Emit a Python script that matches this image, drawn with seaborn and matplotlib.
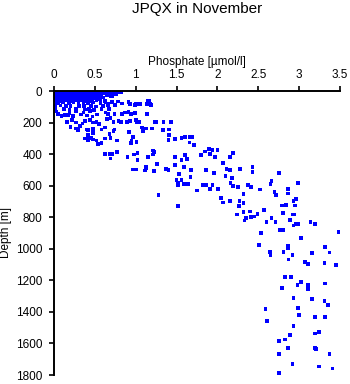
import matplotlib
matplotlib.use("Agg")
import matplotlib.pyplot as plt
import seaborn as sns
import pandas as pd

# ---------------- data ----------------
# surface cluster, row by row
surf1_p = [0.02,0.05,0.09,0.13,0.16,0.20,0.23,0.27,0.30,0.34,0.38,0.41,0.45,0.48,0.52,0.56,0.60,0.64,0.68,0.73,0.77]
surf1_d = [3,5,2,4,6,3,2,5,4,3,6,2,4,5,3,2,6,4,3,5,8]
surf2_p = [0.01,0.04,0.08,0.11,0.15,0.19,0.22,0.26,0.29,0.33,0.36,0.40,0.44,0.47,0.51,0.55,0.58,0.62,0.66,0.70]
surf2_d = [14,16,13,15,17,14,12,16,15,13,17,14,15,12,16,14,18,13,15,17]
surf3_p = [0.02,0.06,0.10,0.13,0.17,0.21,0.24,0.28,0.32,0.35,0.39,0.43,0.46,0.50,0.54,0.57,0.65,0.69]
surf3_d = [26,28,25,27,24,29,26,27,25,28,26,24,29,27,25,28,26,30]
surf4_p = [0.01,0.04,0.08,0.12,0.15,0.19,0.23,0.26,0.30,0.34,0.37,0.41,0.45,0.48,0.53,0.60]
surf4_d = [38,40,37,39,41,38,36,40,39,37,41,38,40,37,39,42]
surf5_p = [0.02,0.05,0.09,0.13,0.17,0.20,0.24,0.28,0.31,0.35,0.39,0.43,0.47,0.50,0.56]
surf5_d = [50,52,49,51,53,48,51,50,52,49,53,50,51,48,52]
surf6_p = [0.01,0.06,0.10,0.16,0.22,0.27,0.33,0.38,0.44,0.52,0.82,0.76,0.71]
surf6_d = [61,60,63,59,62,61,60,64,62,60,10,20,33]

# upper layer, low phosphate
upper_p = [0.03,0.05,0.11,0.18,0.24,0.30,0.36,0.42,0.48,0.57,0.63,
           0.02,0.08,0.15,0.20,0.31,0.37,0.45,0.51,0.60,0.66,
           0.01,0.12,0.19,0.27,0.38,0.43,0.49,0.58,0.67,
           0.03,0.13,0.19,0.27,0.36,0.44,0.53,0.63,
           0.05,0.09,0.17,0.23,0.33,0.40,0.47,
           0.22,0.27,0.32,0.38,0.44,0.48,0.27,0.40,0.48,
           0.16,0.35,0.52,0.55,0.20,0.30,0.58,0.62]
upper_d = [74,78,72,76,73,77,74,75,72,76,73,
           95,92,97,94,96,93,95,98,94,92,
           116,114,118,115,117,113,119,116,112,
           130,152,139,126,137,126,148,137,
           145,158,150,160,148,155,162,
           183,200,221,190,183,200,238,243,238,
           195,205,195,210,230,240,245,232]

# upper layer, higher phosphate
upper2_p = [0.62,0.66,0.71,0.75,0.78,0.83,0.91,0.93,1.00,1.05,1.15,1.14,1.16,1.19,0.99,
            0.66,0.69,0.73,0.79,0.82,0.89,0.93,1.01,0.87,0.91,0.94,0.99,1.24,1.08,1.13,0.74,
            1.14,0.83,0.74,0.65,0.90,1.00,1.04,0.92,1.09,1.175]
upper2_d = [63,84,70,90,66,80,70,84,84,84,63,84,65,87,87,
            147,169,196,190,196,196,190,196,137,133,147,141,196,232,238,243,
            147,147,147,177,200,184,198,257,257,82]

# 250-650 m, phosphate < 1.3
mid1_p = [0.29,0.42,0.48,0.48,0.42,0.43,0.46,0.48,0.38,0.42,0.52,0.58,0.54,0.62,0.69,0.68,0.73,0.77,0.92,1.09,0.97,0.95,0.94,1.01,
          0.62,0.68,0.71,0.69,0.77,0.90,0.98,1.02,1.02,1.15,1.21,1.22,1.21,1.26,0.96,1.00,1.11,1.13,1.13,1.22,1.28]
mid1_d = [249,249,255,266,281,297,297,308,302,314,314,329,335,302,297,272,255,314,259,255,293,314,329,325,
          399,399,399,428,386,420,403,392,439,420,378,386,403,462,497,497,504,492,483,508,658]

# 200-950 m, phosphate 1.2 - 3.5
mid2_p = [1.245,1.34,1.43,1.20,1.33,1.41,1.41,1.40,1.48,1.56,1.60,1.66,1.69,1.66,1.71,
          1.48,1.60,1.56,1.63,1.80,1.85,1.90,1.91,1.94,2.00,1.97,2.07,2.15,2.19,
          1.37,1.40,1.48,1.59,1.68,1.53,1.67,1.86,1.96,2.11,2.15,2.18,2.10,2.28,2.43,2.43,2.75,
          1.50,1.56,1.52,1.52,1.59,1.64,1.75,1.82,1.86,1.91,1.94,2.01,2.16,2.19,2.25,2.37,2.41,2.52,2.66,2.65,2.70,2.72,2.86,2.86,2.99,
          1.52,2.04,2.07,2.15,2.27,2.32,2.26,2.32,2.32,2.24,2.35,2.33,2.40,2.41,2.45,2.49,2.57,2.53,2.60,2.66,2.71,2.76,2.80,2.80,
          2.79,2.84,2.89,2.92,2.94,2.95,2.93,2.96,2.93,2.96,2.99,3.14,3.19,3.02,3.49]
mid2_d = [198,196,198,238,247,243,281,310,306,300,293,293,293,327,342,
          420,407,439,432,407,384,369,399,375,375,420,458,420,394,
          496,502,470,483,502,527,546,502,521,496,502,553,540,496,483,515,521,
          565,563,584,597,591,591,631,597,597,622,597,622,584,603,609,597,609,625,570,591,639,660,622,650,584,
          730,679,707,698,698,654,728,711,768,783,806,821,764,799,795,778,755,901,829,806,831,880,880,774,
          726,723,818,783,783,726,698,685,853,842,844,831,844,930,894]

# deep water
deep_p = [2.51,2.86,2.86,3.32,2.64,2.65,2.81,2.92,3.16,3.37,2.87,3.07,3.11,3.31,3.45,
          2.83,2.90,3.02,3.32,2.98,3.11,3.11,2.79,2.93,3.16,3.31,3.35,2.59,2.99,3.00,2.61,3.19,3.32,
          2.93,3.24,3.19,2.89,2.83,2.75,2.86,3.19,3.21,2.75,3.37,2.92,3.24,3.41,2.75]
deep_d = [975,979,998,990,1019,1040,1019,1038,1027,1023,1068,1084,1097,1091,1101,
          1179,1177,1209,1220,1230,1230,1255,1249,1310,1318,1331,1356,1382,1375,1420,1456,1432,1432,
          1491,1527,1538,1546,1574,1584,1627,1627,1635,1667,1667,1732,1747,1758,1787]

x_ticks = [0, 0.5, 1, 1.5, 2, 2.5, 3, 3.5]
x_tick_labels = ["0", "0.5", "1", "1.5", "2", "2.5", "3", "3.5"]
y_ticks = [0, 200, 400, 600, 800, 1000, 1200, 1400, 1600, 1800]
y_tick_labels = [str(v) for v in y_ticks]

title = "JPQX in November"
x_label = "Phosphate [\u00b5mol/l]"
y_label = "Depth [m]"

# ---------------- assemble ----------------
pairs = [(surf1_p, surf1_d), (surf2_p, surf2_d), (surf3_p, surf3_d), (surf4_p, surf4_d),
         (surf5_p, surf5_d), (surf6_p, surf6_d), (upper_p, upper_d), (upper2_p, upper2_d),
         (mid1_p, mid1_d), (mid2_p, mid2_d), (deep_p, deep_d)]
phos, dep = [], []
for p, d in pairs:
    assert len(p) == len(d)
    phos += p
    dep += d
df = pd.DataFrame({"phosphate": phos, "depth": dep})

# ---------------- style ----------------
sns.set_style("ticks")
plt.rcParams["font.family"] = ["Liberation Sans", "DejaVu Sans"]

fig = plt.figure(figsize=(3.5, 3.84), dpi=100)
W, H = 350, 384
ax = fig.add_axes([54 / W, 1 - 375 / H, 286 / W, 284 / H])

sns.scatterplot(data=df, x="phosphate", y="depth", ax=ax, marker="s", s=7,
                color="#0000ff", linewidth=0, edgecolor="none", legend=False)

ax.set_xlim(0, 3.5)
ax.set_ylim(1800, 0)
ax.xaxis.tick_top()
ax.xaxis.set_label_position("top")
ax.set_xticks(x_ticks)
ax.set_xticklabels(x_tick_labels)
ax.set_yticks(y_ticks)
ax.set_yticklabels(y_tick_labels)

for side in ["right", "bottom"]:
    ax.spines[side].set_visible(False)
for side in ["top", "left"]:
    ax.spines[side].set_linewidth(1.4)
    ax.spines[side].set_color("black")

ax.tick_params(axis="x", which="both", top=True, bottom=False, direction="out",
               length=3.5, width=1.2, pad=3.5, labelsize=8.5, colors="black")
ax.tick_params(axis="y", which="both", left=True, right=False, direction="out",
               length=3.5, width=1.2, pad=5, labelsize=8.5, colors="black")

ax.set_xlabel(x_label, fontsize=8.5, labelpad=3, color="black")
ax.set_ylabel(y_label, fontsize=8.5, labelpad=2.5, color="black")

fig.text(197 / W, 1 - 9 / H, title, ha="center", va="center", fontsize=11, color="black")

fig.savefig("out.png", dpi=100, facecolor="white")
